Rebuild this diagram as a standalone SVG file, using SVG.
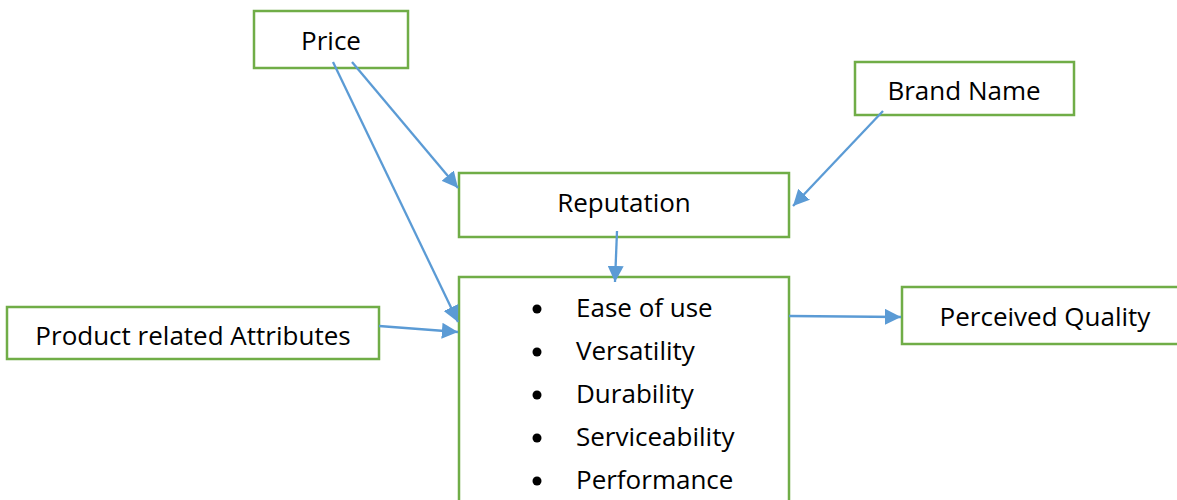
<svg xmlns="http://www.w3.org/2000/svg" width="1177" height="500" viewBox="0 0 1177 500">
<style>
.box{fill:#fff;stroke:#70AD47;stroke-width:2.5}
.lbl{font-family:"Open Sans","Liberation Sans",sans-serif;font-size:26px;fill:#000;text-anchor:middle}
.li{font-family:"Open Sans","Liberation Sans",sans-serif;font-size:26px;fill:#000}
.con{stroke:#5B9BD5;stroke-width:2.3;fill:none;marker-end:url(#ah)}
</style>
<defs>
<marker id="ah" viewBox="0 0 10 10" refX="10" refY="5" markerWidth="7" markerHeight="7" orient="auto" markerUnits="strokeWidth">
<path d="M0,0 L10,5 L0,10 Z" fill="#5B9BD5"/>
</marker>
</defs>
<rect width="1177" height="500" fill="#fff"/>
<g id="price"><rect class="box" x="254" y="11" width="154" height="57"/><text class="lbl" x="331" y="50">Price</text></g>
<g id="brand"><rect class="box" x="855" y="62" width="219" height="53"/><text class="lbl" x="964" y="100">Brand Name</text></g>
<g id="reputation"><rect class="box" x="459" y="173" width="330" height="64"/><text class="lbl" x="624" y="212">Reputation</text></g>
<g id="product"><rect class="box" x="7" y="307" width="372" height="52"/><text class="lbl" x="193" y="345">Product related Attributes</text></g>
<g id="perceived"><rect class="box" x="902" y="287" width="280" height="57"/><text class="lbl" x="1045" y="326">Perceived Quality</text></g>
<g id="attributes"><rect class="box" x="459" y="277" width="330" height="240"/>
<g fill="#000"><circle cx="537" cy="309" r="4.5"/><circle cx="537" cy="352" r="4.5"/><circle cx="537" cy="395" r="4.5"/><circle cx="537" cy="438" r="4.5"/><circle cx="537" cy="481" r="4.5"/></g>
<text class="li" x="576" y="317">Ease of use</text>
<text class="li" x="576" y="360">Versatility</text>
<text class="li" x="576" y="403">Durability</text>
<text class="li" x="576" y="446">Serviceability</text>
<text class="li" x="576" y="489">Performance</text>
</g>
<g id="connectors">
<line class="con" x1="352" y1="62" x2="458" y2="188"/>
<line class="con" x1="333" y1="62" x2="458" y2="322"/>
<line class="con" x1="883" y1="111" x2="793" y2="206"/>
<line class="con" x1="617" y1="231" x2="615" y2="282"/>
<line class="con" x1="379" y1="326" x2="458" y2="332"/>
<line class="con" x1="789" y1="316" x2="901" y2="317"/>
</g>
</svg>
